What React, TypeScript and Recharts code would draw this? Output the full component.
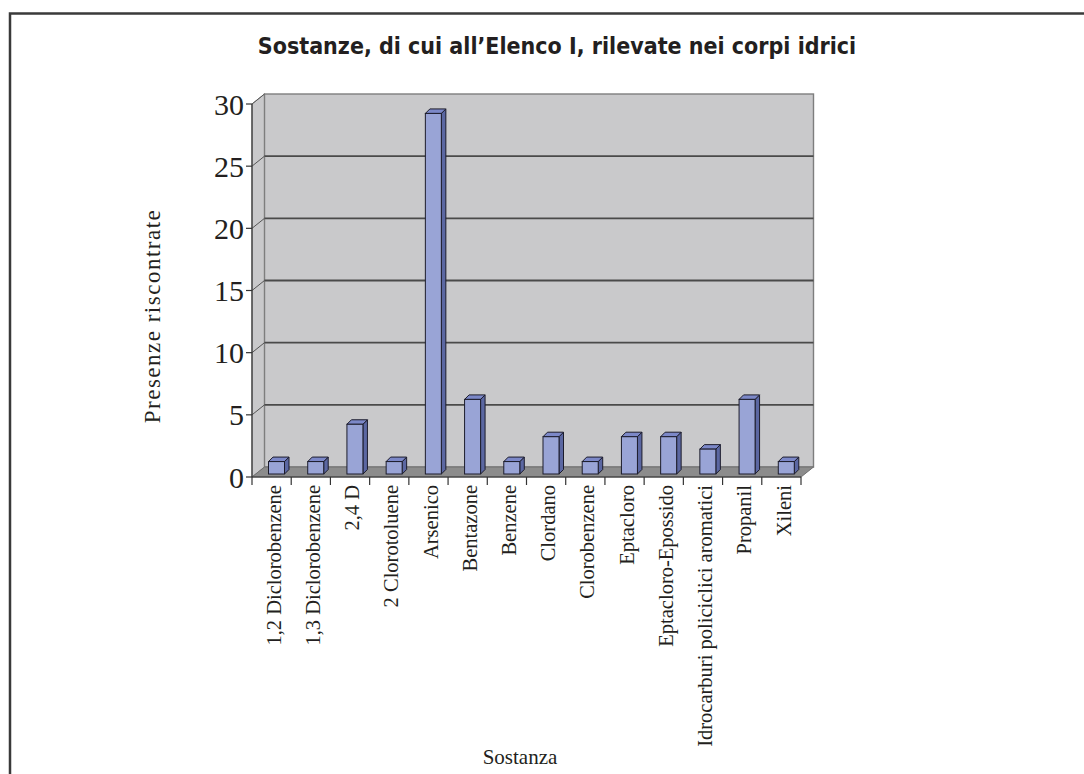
import React from 'react';
import { BarChart, Bar, XAxis, YAxis, ReferenceArea } from 'recharts';

// Presenze per sostanza (Elenco I)
const SOSTANZE = [
  '1,2 Diclorobenzene',
  '1,3 Diclorobenzene',
  '2,4 D',
  '2 Clorotoluene',
  'Arsenico',
  'Bentazone',
  'Benzene',
  'Clordano',
  'Clorobenzene',
  'Eptacloro',
  'Eptacloro-Epossido',
  'Idrocarburi policiclici aromatici',
  'Propanil',
  'Xileni',
];
const PRESENZE = [1, 1, 4, 1, 29, 6, 1, 3, 1, 3, 3, 2, 6, 1];
const Y_TICKS = [0, 5, 10, 15, 20, 25, 30];

const data = SOSTANZE.map((nome, i) => ({ nome, presenze: PRESENZE[i] }));

const W = 1084;
const H = 774;
// depth of the 3D box (wall offset) and of each bar
const DX = 12.5;
const DY = 10;
const BAR_DX = 4.5;
const BAR_DY = 4.5;
const BAR_SHIFT_X = 4.5;
const BAR_SHIFT_Y = -3;

const SERIF = '"Liberation Serif", "Times New Roman", serif';
const INK = '#231f20';

// back wall, side wall, floor and gridlines of the 3D box
const Backdrop = (props: any) => {
  const { x, y, width, height } = props;
  const bottom = y + height;
  const right = x + width;
  const yOf = (v: number) => bottom - (v / 30) * height;
  return (
    <g>
      {/* side wall */}
      <polygon
        points={`${x},${y} ${x + DX},${y - DY} ${x + DX},${bottom - DY} ${x},${bottom}`}
        fill="#c9c9cb"
        stroke="#8a8a8a"
        strokeWidth={1}
      />
      {/* back wall */}
      <rect x={x + DX} y={y - DY} width={width} height={height} fill="#c9c9cb" stroke="#7e7e7e" strokeWidth={1.4} />
      {/* floor */}
      <polygon
        points={`${x},${bottom} ${x + DX},${bottom - DY} ${right + DX},${bottom - DY} ${right},${bottom}`}
        fill="#8c8c8c"
        stroke="#6e6e6e"
        strokeWidth={1}
      />
      {Y_TICKS.filter((t) => t > 0 && t < 30).map((t) => (
        <g key={t}>
          <line x1={x} y1={yOf(t)} x2={x + DX} y2={yOf(t) - DY} stroke="#555" strokeWidth={1} />
          <line x1={x + DX} y1={yOf(t) - DY} x2={right + DX} y2={yOf(t) - DY} stroke="#4a4a4a" strokeWidth={1.8} />
        </g>
      ))}
      <line x1={x} y1={y} x2={x + DX} y2={y - DY} stroke="#555" strokeWidth={1} />
    </g>
  );
};

// 3D bar: front face, top and right side
const Bar3D = (props: any) => {
  const { x, y, width, height } = props;
  if (height == null || height <= 0) return null;
  const fx = x + BAR_SHIFT_X;
  const fy = y + BAR_SHIFT_Y;
  const stroke = '#1c1c2c';
  return (
    <g>
      <polygon
        points={`${fx + width},${fy} ${fx + width + BAR_DX},${fy - BAR_DY} ${fx + width + BAR_DX},${fy + height - BAR_DY} ${fx + width},${fy + height}`}
        fill="#5b67a2"
        stroke={stroke}
        strokeWidth={1}
        strokeLinejoin="round"
      />
      <polygon
        points={`${fx},${fy} ${fx + BAR_DX},${fy - BAR_DY} ${fx + width + BAR_DX},${fy - BAR_DY} ${fx + width},${fy}`}
        fill="#7c88c8"
        stroke={stroke}
        strokeWidth={1}
        strokeLinejoin="round"
      />
      <rect x={fx} y={fy} width={width} height={height} fill="#99a4d6" stroke={stroke} strokeWidth={1} />
    </g>
  );
};

// category label, rotated, with a tick line at the left boundary of the band
const CategoryTick = (props: any) => {
  const { x, payload, index } = props;
  const half = payload && payload.offset ? payload.offset : 19.6;
  const axisY = 477;
  return (
    <g>
      <line x1={x - half} y1={axisY} x2={x - half} y2={axisY + 8} stroke="#333" strokeWidth={1.2} />
      {index === SOSTANZE.length - 1 && (
        <line x1={x + half} y1={axisY} x2={x + half} y2={axisY + 8} stroke="#333" strokeWidth={1.2} />
      )}
      <text
        x={x + 2}
        y={axisY + 8}
        transform={`rotate(-90 ${x + 2} ${axisY + 8})`}
        textAnchor="end"
        dy="0.35em"
        fontFamily={SERIF}
        fontSize={20.5}
        fill={INK}
      >
        {payload.value}
      </text>
    </g>
  );
};

export default function App() {
  return (
    <div style={{ position: 'absolute', left: 0, top: 0, width: W, height: H, background: '#fff' }}>
      <svg width={W} height={H} style={{ position: 'absolute', left: 0, top: 0 }}>
        <path d={`M 10 ${H} V 13.5 H ${W}`} fill="none" stroke="#3a3a3a" strokeWidth={2.5} />
        <text
          x={557}
          y={47}
          textAnchor="middle"
          dominantBaseline="middle"
          fontFamily='"Liberation Sans Narrow", "DejaVu Sans Condensed", sans-serif'
          fontWeight="bold"
          fontSize={23}
          fill={INK}
        >
          Sostanze, di cui all’Elenco I, rilevate nei corpi idrici
        </text>
        <text
          x={152}
          y={316}
          transform="rotate(-90 152 316)"
          textAnchor="middle"
          dy="0.35em"
          fontFamily={SERIF}
          fontSize={23}
          letterSpacing={1.5}
          fill={INK}
        >
          Presenze  riscontrate
        </text>
        <text x={520} y={757} textAnchor="middle" dy="0.35em" fontFamily={SERIF} fontSize={21} fill={INK}>
          Sostanza
        </text>
      </svg>
      <div style={{ position: 'absolute', left: 0, top: 0 }}>
        <BarChart
          width={W}
          height={H}
          data={data}
          margin={{ top: 104, right: 283, left: 192, bottom: 97 }}
          barCategoryGap={0}
        >
          <ReferenceArea y1={0} y2={30} shape={<Backdrop />} ifOverflow="visible" />
          <XAxis
            dataKey="nome"
            interval={0}
            height={200}
            axisLine={{ stroke: '#333', strokeWidth: 1.2 }}
            tickLine={false}
            tick={<CategoryTick />}
          />
          <YAxis
            type="number"
            domain={[0, 30]}
            ticks={Y_TICKS}
            width={60}
            axisLine={{ stroke: '#333', strokeWidth: 1.2 }}
            tickLine={{ stroke: '#333', strokeWidth: 1.2 }}
            tickSize={6}
            tick={{ fontFamily: SERIF, fontSize: 30, fill: INK }}
          />
          <Bar dataKey="presenze" barSize={16} shape={<Bar3D />} isAnimationActive={false} />
        </BarChart>
      </div>
    </div>
  );
}
